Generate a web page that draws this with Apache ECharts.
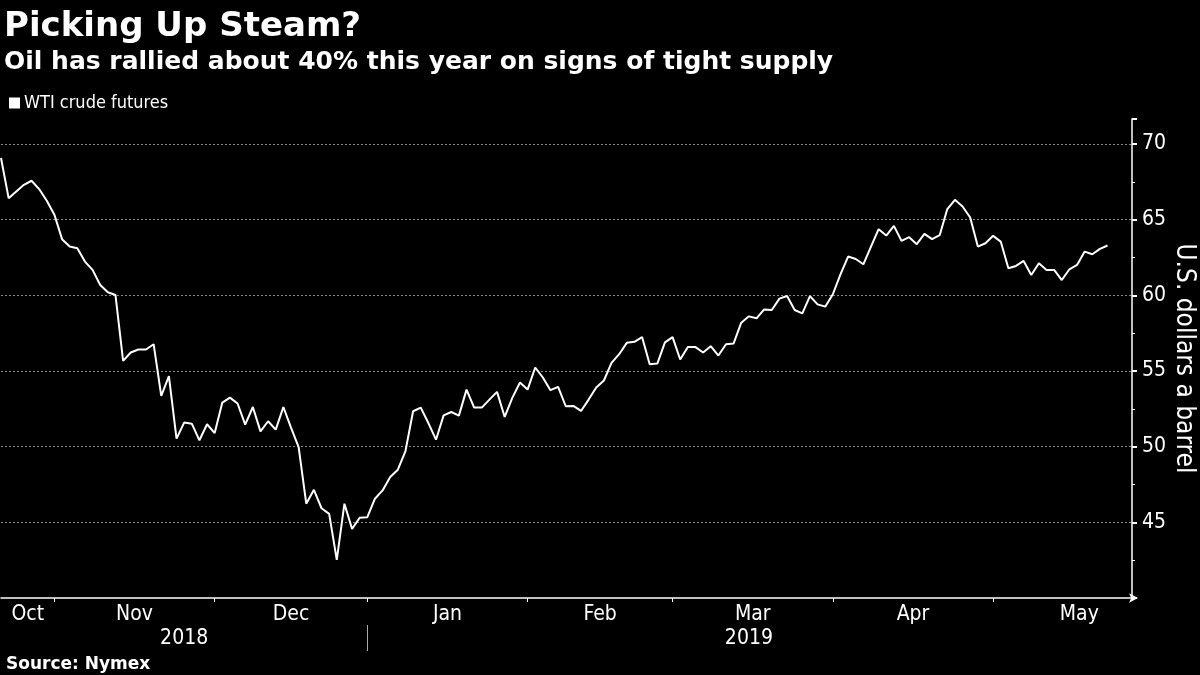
<!DOCTYPE html>
<html><head><meta charset="utf-8">
<script src="https://cdn.jsdelivr.net/npm/echarts@6/dist/echarts.min.js"></script>
<style>html,body{margin:0;padding:0;background:#000}#c{width:1200px;height:675px}</style>
</head><body><div id="c"></div><script>
const titleText = 'Picking Up Steam?';
const subtitleText = 'Oil has rallied about 40% this year on signs of tight supply';
const sourceText = 'Source: Nymex';
const seriesName = 'WTI crude futures';
const yAxisName = 'U.S. dollars a barrel';

// Daily WTI closes, one per trading day (Oct 22, 2018 - May 21, 2019)
const wti = [
  69.07, 66.42, 66.86, 67.30, 67.57, 67.02, 66.25, 65.32,
  63.71, 63.22, 63.11, 62.23, 61.68, 60.68, 60.20, 60.02, 55.67, 56.22, 56.42, 56.42,
  56.77, 53.35, 54.66, 50.53, 51.59, 51.52, 50.42, 51.48, 50.90,
  52.91, 53.24, 52.85, 51.46, 52.62, 51.01, 51.68, 51.13, 52.62, 51.26,
  49.97, 46.23, 47.15, 45.93, 45.56, 42.52, 46.23, 44.57, 45.30, 45.34,
  46.56, 47.11, 47.99, 48.48, 49.71, 52.34, 52.58, 51.56, 50.46, 52.07,
  52.29, 52.05, 53.77, 52.58, 52.58, 53.11, 53.62, 51.96, 53.22, 54.24, 53.77,
  55.23, 54.57, 53.73, 53.95, 52.67, 52.69, 52.36, 53.11, 53.91, 54.37,
  55.54, 56.11, 56.86, 56.93, 57.24, 55.45, 55.49, 56.89, 57.24,
  55.76, 56.58, 56.58, 56.22, 56.64, 56.02, 56.77, 56.82, 58.19, 58.61,
  58.48, 59.07, 59.03, 59.78, 59.95, 59.03, 58.81, 59.95, 59.40, 59.25, 60.07,
  61.39, 62.56, 62.40, 62.05, 63.22, 64.37, 63.95, 64.59, 63.60, 63.84,
  63.38, 64.06, 63.71, 63.97, 65.70, 66.31, 65.87, 65.14, 63.22, 63.44, 63.93,
  63.55, 61.79, 61.94, 62.27, 61.34, 62.12, 61.68, 61.68, 61.01, 61.72,
  62.01, 62.89, 62.71, 63.07, 63.29
];

// x axis in trading-day index units
const monthEndIdx = [7, 28, 48, 69, 88, 109, 130];
const monthLabels = ['Oct', 'Nov', 'Dec', 'Jan', 'Feb', 'Mar', 'Apr', 'May'];
const monthLabelIdx = [3.5, 17.5, 38, 58.5, 78.5, 98.5, 119.5, 141.3];
const yearLabels = ['2018', '2019'];
const yearLabelIdx = [24, 98];
const yearBreakIdx = [48];
const xMin = 0, xMax = 148.2;
const yMin = 40, yMax = 71.65, yStep = 5;

const condensed = "'DejaVu Sans Condensed', 'DejaVu Sans', sans-serif";
const bold = "'DejaVu Sans', sans-serif";

const chart = echarts.init(document.getElementById('c'), null, {renderer: 'canvas'});
chart.setOption({
  backgroundColor: '#000',
  animation: false,
  title: [
    {text: titleText, left: 4, top: 10, padding: 0, textStyle: {color: '#fff', fontSize: 34, fontWeight: 'bold', fontFamily: bold}},
    {text: subtitleText, left: 4, top: 50, padding: 0, textStyle: {color: '#fff', fontSize: 25, fontWeight: 'bold', fontFamily: bold}},
    {text: sourceText, left: 6, top: 656, padding: 0, textStyle: {color: '#fff', fontSize: 17, fontWeight: 'bold', fontFamily: bold}}
  ],
  legend: {
    left: 9, top: 94, padding: 0, itemWidth: 11, itemHeight: 11, itemGap: 5, icon: 'rect',
    textStyle: {color: '#fff', fontSize: 18, fontFamily: condensed, padding: [0, 0, 0, -1]},
    data: [{name: seriesName, itemStyle: {color: '#fff'}}]
  },
  grid: {left: 1, right: 68, top: 119, bottom: 77, containLabel: false, outerBoundsMode: 'none'},
  xAxis: [
    {
      type: 'value', min: xMin, max: xMax, position: 'bottom',
      axisLine: {show: true, onZero: false, lineStyle: {color: '#fff', width: 1.5}, symbol: ['none', 'arrow'], symbolSize: [7, 9], symbolOffset: [0, 6]},
      axisTick: {show: true, customValues: monthEndIdx, length: 4, lineStyle: {color: '#fff'}},
      axisLabel: {
        show: true, customValues: monthLabelIdx, margin: 6,
        color: '#fff', fontSize: 21, fontFamily: condensed,
        formatter: v => monthLabels[monthLabelIdx.indexOf(v)]
      },
      splitLine: {show: false}
    },
    {
      type: 'value', min: xMin, max: xMax, position: 'bottom', offset: 27,
      axisLine: {show: false, onZero: false},
      axisTick: {show: true, customValues: yearBreakIdx, length: 26, lineStyle: {color: '#aaa'}},
      axisLabel: {
        show: true, customValues: yearLabelIdx, margin: 3,
        color: '#fff', fontSize: 21, fontFamily: condensed,
        formatter: v => yearLabels[yearLabelIdx.indexOf(v)]
      },
      splitLine: {show: false}
    }
  ],
  yAxis: {
    type: 'value', position: 'right', min: yMin, max: yMax, interval: yStep,
    name: yAxisName, nameLocation: 'middle', nameRotate: -90, nameGap: 39, nameMoveOverlap: false,
    nameTextStyle: {color: '#fff', fontSize: 26, fontFamily: condensed},
    axisLine: {show: true, onZero: false, lineStyle: {color: '#fff', width: 1.5}},
    axisTick: {show: true, length: 5, lineStyle: {color: '#fff', width: 2}},
    minorTick: {show: true, splitNumber: 2, length: 3, lineStyle: {color: '#fff'}},
    axisLabel: {color: '#fff', fontSize: 21, fontFamily: condensed, margin: 10, showMinLabel: false, showMaxLabel: false},
    splitLine: {show: true, showMinLine: false, showMaxLine: false, lineStyle: {color: '#888', width: 1, type: [2, 2]}}
  },
  series: [{
    name: seriesName, type: 'line', xAxisIndex: 0,
    data: wti.map((v, i) => [i, v]),
    showSymbol: false, symbol: 'none',
    lineStyle: {color: '#fff', width: 2},
    itemStyle: {color: '#fff'}
  }]
});
</script></body></html>
